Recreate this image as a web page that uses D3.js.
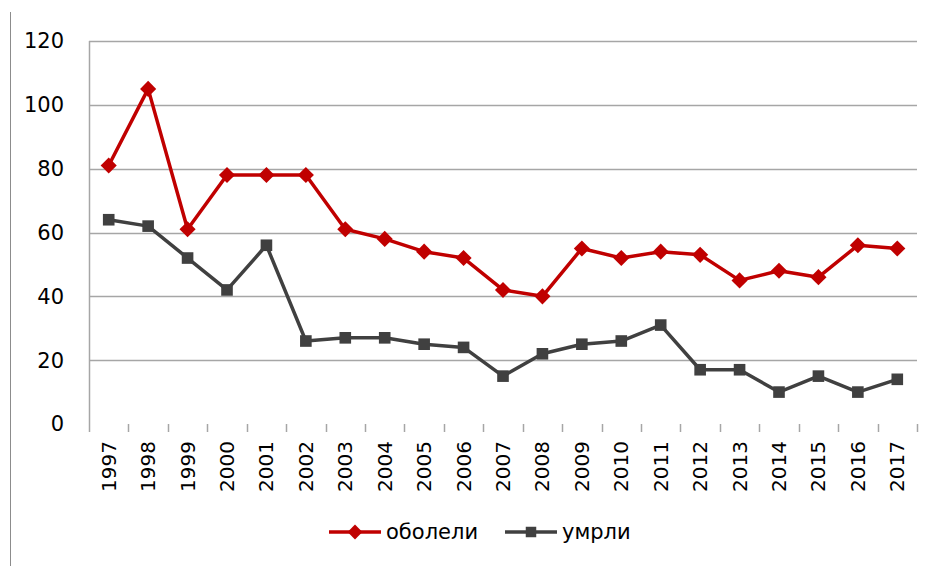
<!DOCTYPE html>
<html>
<head>
<meta charset="utf-8">
<script src="https://cdn.jsdelivr.net/npm/d3@7"></script>
<style>
  body { margin: 0; background: #fff; }
  text { font-family: "DejaVu Sans", sans-serif; fill: #000; }
</style>
</head>
<body>
<div id="chart"></div>
<script>
var years = ["1997","1998","1999","2000","2001","2002","2003","2004","2005","2006","2007",
             "2008","2009","2010","2011","2012","2013","2014","2015","2016","2017"];
var oboleli = [81, 105, 61, 78, 78, 78, 61, 58, 54, 52, 42, 40, 55, 52, 54, 53, 45, 48, 46, 56, 55];
var umrli = [64, 62, 52, 42, 56, 26, 27, 27, 25, 24, 15, 22, 25, 26, 31, 17, 17, 10, 15, 10, 14];
var yTicks = [0, 20, 40, 60, 80, 100, 120];
var seriesNames = ["оболели", "умрли"];

var width = 932, height = 566;
var margin = {left: 89, top: 41, right: 15, bottom: 142};
var w = width - margin.left - margin.right,
    h = height - margin.top - margin.bottom;

var svg = d3.select("#chart").append("svg")
    .attr("width", width)
    .attr("height", height);

// chart border on the left
svg.append("line")
    .attr("x1", 10.5).attr("x2", 10.5)
    .attr("y1", 12).attr("y2", height)
    .attr("stroke", "#8c8c8c").attr("stroke-width", 1);

var x = d3.scaleBand().domain(years).range([0, w]);
var y = d3.scaleLinear().domain([0, 120]).range([h, 0]);

var g = svg.append("g")
    .attr("transform", "translate(" + margin.left + "," + margin.top + ")");

// gridlines
g.selectAll(".grid")
    .data(yTicks.filter(function(d) { return d > 0; }))
  .enter().append("line")
    .attr("class", "grid")
    .attr("x1", 0).attr("x2", w)
    .attr("y1", function(d) { return Math.round(y(d)) + 0.5; })
    .attr("y2", function(d) { return Math.round(y(d)) + 0.5; })
    .attr("stroke", "#a6a6a6").attr("stroke-width", 1.5);

// y axis line
g.append("line")
    .attr("x1", 0.5).attr("x2", 0.5)
    .attr("y1", 0).attr("y2", h + 8)
    .attr("stroke", "#a6a6a6").attr("stroke-width", 1.5);

// y labels
g.selectAll(".ylab")
    .data(yTicks)
  .enter().append("text")
    .attr("class", "ylab")
    .attr("x", -25)
    .attr("y", function(d) { return y(d); })
    .attr("dy", "0.35em")
    .attr("text-anchor", "end")
    .style("font-size", "21px")
    .text(function(d) { return d; });

// x ticks at band boundaries
g.selectAll(".xtick")
    .data(years.slice(1).concat(["end"]))
  .enter().append("line")
    .attr("class", "xtick")
    .attr("x1", function(d, i) { return Math.round(x.step() * (i + 1)) + 0.5; })
    .attr("x2", function(d, i) { return Math.round(x.step() * (i + 1)) + 0.5; })
    .attr("y1", h).attr("y2", h + 8)
    .attr("stroke", "#a6a6a6").attr("stroke-width", 1.5);

// x labels, rotated
g.selectAll(".xlab")
    .data(years)
  .enter().append("text")
    .attr("class", "xlab")
    .attr("transform", function(d) {
      return "translate(" + (x(d) + x.bandwidth() / 2) + "," + (h + 17) + ") rotate(-90)";
    })
    .attr("dy", "0.35em")
    .attr("text-anchor", "end")
    .style("font-size", "20px")
    .text(function(d) { return d; });

var line = d3.line()
    .x(function(d, i) { return x(years[i]) + x.bandwidth() / 2; })
    .y(function(d) { return y(d); });

var diamond = d3.symbol().type(d3.symbolSquare).size(130);
var square = d3.symbol().type(d3.symbolSquare).size(135);

// умрли
g.append("path")
    .datum(umrli)
    .attr("fill", "none")
    .attr("stroke", "#404040")
    .attr("stroke-width", 3.5)
    .attr("stroke-linejoin", "round")
    .attr("d", line);

g.selectAll(".sq")
    .data(umrli)
  .enter().append("path")
    .attr("class", "sq")
    .attr("d", square)
    .attr("fill", "#404040")
    .attr("transform", function(d, i) {
      return "translate(" + (x(years[i]) + x.bandwidth() / 2) + "," + y(d) + ")";
    });

// оболели
g.append("path")
    .datum(oboleli)
    .attr("fill", "none")
    .attr("stroke", "#c00000")
    .attr("stroke-width", 3.5)
    .attr("stroke-linejoin", "round")
    .attr("d", line);

g.selectAll(".dm")
    .data(oboleli)
  .enter().append("path")
    .attr("class", "dm")
    .attr("d", diamond)
    .attr("fill", "#c00000")
    .attr("transform", function(d, i) {
      return "translate(" + (x(years[i]) + x.bandwidth() / 2) + "," + y(d) + ") rotate(45)";
    });

// legend
var legend = svg.append("g").attr("transform", "translate(329,532)");
var items = [
  {name: seriesNames[0], color: "#c00000", shape: d3.symbol().type(d3.symbolSquare).size(110), rot: 45, dx: 0},
  {name: seriesNames[1], color: "#404040", shape: d3.symbol().type(d3.symbolSquare).size(110), rot: 0, dx: 176}
];
items.forEach(function(it) {
  var lg = legend.append("g").attr("transform", "translate(" + it.dx + ",0)");
  lg.append("line")
    .attr("x1", 0).attr("x2", 52)
    .attr("y1", 0).attr("y2", 0)
    .attr("stroke", it.color).attr("stroke-width", 3.5);
  lg.append("path")
    .attr("d", it.shape)
    .attr("fill", it.color)
    .attr("transform", "translate(26,0) rotate(" + it.rot + ")");
  lg.append("text")
    .attr("x", 57)
    .attr("y", 0)
    .attr("dy", "0.33em")
    .style("font-size", "21px")
    .text(it.name);
});
</script>
</body>
</html>
